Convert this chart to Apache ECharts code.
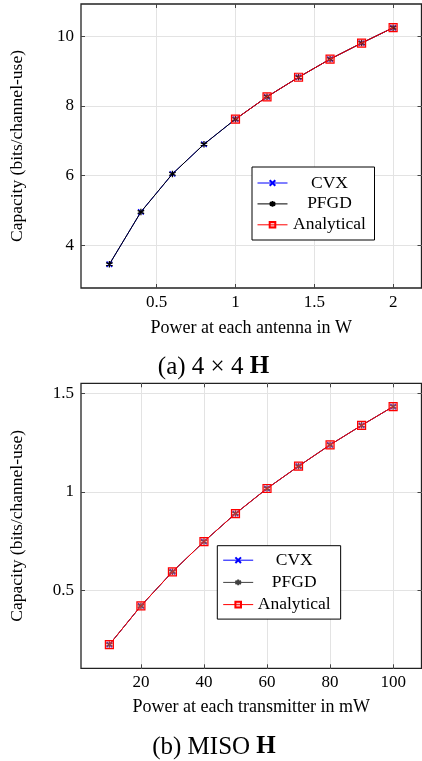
<!DOCTYPE html>
<html><head><meta charset="utf-8">
<script src="https://cdn.jsdelivr.net/npm/echarts@6/dist/echarts.min.js"></script>
<style>html,body{margin:0;padding:0;background:#fff;}#c{width:422px;height:761px;}</style>
</head><body><div id="c"></div>
<script>
// ---- data (a) 4x4 H ----
const topPower = [0.2, 0.4, 0.6, 0.8, 1.0, 1.2, 1.4, 1.6, 1.8, 2.0];
const topCVX = [3.46, 4.96, 6.05, 6.90, 7.62, 8.26, 8.82, 9.34, 9.80, 10.24];
const topPFGD = [3.46, 4.96, 6.05, 6.90, 7.62, 8.26, 8.82, 9.34, 9.80, 10.24];
const topAnalyticalPower = [1.0, 1.2, 1.4, 1.6, 1.8, 2.0];
const topAnalytical = [7.62, 8.26, 8.82, 9.34, 9.80, 10.24];
const topXTicks = [0.5, 1, 1.5, 2];
const topYTicks = [4, 6, 8, 10];
// ---- data (b) MISO H ----
const botPower = [10, 20, 30, 40, 50, 60, 70, 80, 90, 100];
const botCVX = [0.226, 0.422, 0.595, 0.748, 0.890, 1.017, 1.130, 1.238, 1.337, 1.432];
const botPFGD = [0.226, 0.422, 0.595, 0.748, 0.890, 1.017, 1.130, 1.238, 1.337, 1.432];
const botAnalytical = [0.226, 0.422, 0.595, 0.748, 0.890, 1.017, 1.130, 1.238, 1.337, 1.432];
const botXTicks = [20, 40, 60, 80, 100];
const botYTicks = [0.5, 1, 1.5];
const seriesNames = ['CVX', 'PFGD', 'Analytical'];
const captionA = '(a) 4 × 4 ';
const captionB = '(b) MISO ';
const captionBold = 'H';
const yName = 'Capacity (bits/channel-use)';
const xNameA = 'Power at each antenna in W';
const xNameB = 'Power at each transmitter in mW';

const pairs = (xs, ys) => xs.map((x, i) => [x, ys[i]]);
const FONT = 'Liberation Serif';
const crossPath = 'path://M0,0L10,10M10,0L0,10';
const starPath = 'path://M5,0L5,10M0.67,2.5L9.33,7.5M0.67,7.5L9.33,2.5';
const squarePath = 'path://M0,0L10,0L10,10L0,10Z';

function mkSeries(name, xi, yi, data, color, kind, z) {
  let sym, size, itemStyle;
  if (kind === 'cross') { sym = crossPath; size = 5.5; itemStyle = {color: color, borderColor: color, borderWidth: 1.2}; }
  else if (kind === 'star') { sym = starPath; size = 6.5; itemStyle = {color: color, borderColor: color, borderWidth: 1.3}; }
  else { sym = squarePath; size = 8; itemStyle = {color: 'rgba(255,80,80,0.35)', borderColor: color, borderWidth: 1.2}; }
  return {
    type: 'line', name: name, xAxisIndex: xi, yAxisIndex: yi, data: data,
    symbol: sym, symbolSize: size, showAllSymbol: true, animation: false, z: z,
    lineStyle: {color: color, width: 1}, itemStyle: itemStyle, emphasis: {disabled: true}
  };
}

const tickStyle = {color: '#444', width: 1};
function mainX(gi, min, max, ticks, name, gap) {
  return {type: 'value', gridIndex: gi, min: min, max: max,
    name: name, nameLocation: 'middle', nameGap: gap,
    nameTextStyle: {fontFamily: FONT, fontSize: 18, color: '#000'},
    axisLine: {show: false},
    axisTick: {show: true, inside: true, length: 4, lineStyle: tickStyle, customValues: ticks},
    axisLabel: {fontFamily: FONT, fontSize: 17, color: '#000', margin: 6, customValues: ticks},
    splitLine: {show: true, lineStyle: {color: '#e3e3e3', width: 1}}};
}
function mainY(gi, min, max, ticks) {
  return {type: 'value', gridIndex: gi, min: min, max: max,
    name: yName, nameLocation: 'middle', nameGap: 55,
    nameTextStyle: {fontFamily: FONT, fontSize: 17.5, color: '#000'},
    axisLine: {show: false},
    axisTick: {show: true, inside: true, length: 4, lineStyle: tickStyle, customValues: ticks},
    axisLabel: {fontFamily: FONT, fontSize: 17, color: '#000', margin: 7, customValues: ticks},
    splitLine: {show: true, lineStyle: {color: '#e3e3e3', width: 1}}};
}
function secX(gi, min, max, ticks) {
  return {type: 'value', gridIndex: gi, min: min, max: max, position: 'top',
    axisLine: {show: false},
    axisTick: {show: true, inside: true, length: 4, lineStyle: tickStyle, customValues: ticks},
    axisLabel: {show: false}, splitLine: {show: false}};
}
function secY(gi, min, max, ticks) {
  return {type: 'value', gridIndex: gi, min: min, max: max, position: 'right',
    axisLine: {show: false},
    axisTick: {show: true, inside: true, length: 4, lineStyle: tickStyle, customValues: ticks},
    axisLabel: {show: false}, splitLine: {show: false}};
}

const bn = seriesNames.map(n => n + ' ');

const option = {
  backgroundColor: '#fff',
  animation: false,
  grid: [
    {left: 80, top: 4, right: 0.5, height: 284, show: true, borderColor: '#222', borderWidth: 1.3, backgroundColor: 'transparent'},
    {left: 80, top: 383.3, right: 0.5, height: 285, show: true, borderColor: '#222', borderWidth: 1.3, backgroundColor: 'transparent'}
  ],
  xAxis: [
    mainX(0, 0.02, 2.18, topXTicks, xNameA, 31),
    mainX(1, 1, 109, botXTicks, xNameB, 30),
    secX(0, 0.02, 2.18, topXTicks),
    secX(1, 1, 109, botXTicks)
  ],
  yAxis: [
    mainY(0, 2.78, 10.92, topYTicks),
    mainY(1, 0.106, 1.55, botYTicks),
    secY(0, 2.78, 10.92, topYTicks),
    secY(1, 0.106, 1.55, botYTicks)
  ],
  legend: [
    {data: seriesNames, orient: 'vertical', left: 252, top: 167, padding: [7, 8, 6.2, 5], itemGap: 2.9,
      itemWidth: 30, itemHeight: 7, borderColor: '#000', borderWidth: 1, backgroundColor: '#fff',
      selectedMode: false, lineStyle: {width: 1},
      formatter: n => '{c|' + n.trim() + '}',
      textStyle: {rich: {c: {width: 74, align: 'center', fontFamily: FONT, fontSize: 17.5, lineHeight: 18, color: '#000'}}}},
    {data: bn, orient: 'vertical', left: 217.3, top: 545.7, padding: [5.5, 10, 5.5, 5.4], itemGap: 4.2,
      itemWidth: 30, itemHeight: 7, borderColor: '#000', borderWidth: 1, backgroundColor: '#fff',
      selectedMode: false, lineStyle: {width: 1},
      formatter: n => '{c|' + n.trim() + '}',
      textStyle: {rich: {c: {width: 72, align: 'center', fontFamily: FONT, fontSize: 17.5, lineHeight: 18, color: '#000'}}}}
  ],
  series: [
    mkSeries(seriesNames[0], 0, 0, pairs(topPower, topCVX), '#0000ff', 'cross', 2),
    mkSeries(seriesNames[1], 0, 0, pairs(topPower, topPFGD), '#000000', 'star', 3),
    mkSeries(seriesNames[2], 0, 0, pairs(topAnalyticalPower, topAnalytical), '#ff0000', 'rect', 4),
    mkSeries(bn[0], 1, 1, pairs(botPower, botCVX), '#0000ff', 'cross', 2),
    mkSeries(bn[1], 1, 1, pairs(botPower, botPFGD), '#404040', 'star', 3),
    mkSeries(bn[2], 1, 1, pairs(botPower, botAnalytical), '#ff0000', 'rect', 4)
  ],
  graphic: [
    {type: 'text', style: {x: 213.5, y: 367, text: captionA + '{b|' + captionBold + '}', align: 'center', verticalAlign: 'middle',
      font: '25px "Liberation Serif"', fill: '#000', rich: {b: {fontWeight: 'bold', fontFamily: FONT, fontSize: 25}}}},
    {type: 'text', style: {x: 214, y: 747, text: captionB + '{b|' + captionBold + '}', align: 'center', verticalAlign: 'middle',
      font: '25px "Liberation Serif"', fill: '#000', rich: {b: {fontWeight: 'bold', fontFamily: FONT, fontSize: 25}}}}
  ]
};
const chart = echarts.init(document.getElementById('c'), null, {renderer: 'canvas'});
chart.setOption(option);
</script></body></html>
